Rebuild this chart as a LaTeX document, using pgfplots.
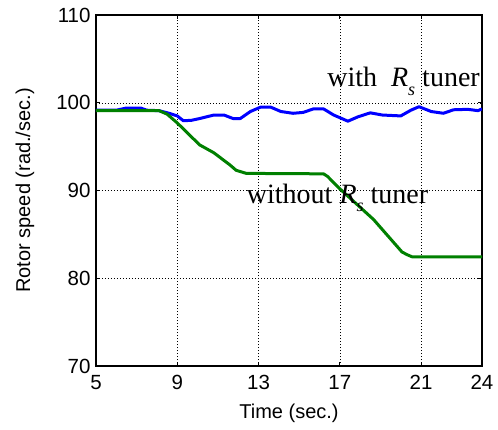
\documentclass[border=0pt]{standalone}
\usepackage{pgfplots}
\pgfplotsset{compat=1.18}
\usepackage{fontspec}
\setmainfont{Liberation Sans}
\newfontfamily\tnr{Liberation Serif}
\definecolor{mblue}{RGB}{0,0,255}
\definecolor{mgreen}{RGB}{0,128,0}
\begin{document}
\begin{tikzpicture}
\path[use as bounding box] (-96pt,-63pt) rectangle (402pt,366pt);
\begin{axis}[
  scale only axis, width=386pt, height=351pt,
  xmin=5, xmax=24, ymin=70, ymax=110,
  xtick={5,9,13,17,21,24}, ytick={70,80,90,100,110},
  tick align=inside, major tick length=4pt,
  tick style={black, line width=0.6pt},
  axis line style={black, line width=1.1pt},
  grid=major,
  major grid style={black, line width=0.5pt, dash pattern=on 1pt off 2pt},
  /pgf/number format/assume math mode=true,
  tick label style={font=\fontsize{20.5}{24}\selectfont},
  label style={font=\fontsize{20}{24}\selectfont},
  xlabel={Time (sec.)}, ylabel={Rotor speed (rad./sec.)},
  xlabel style={at={(axis description cs:0.5,-0.134)}, anchor=center},
  ylabel style={at={(axis description cs:-0.184,0.5)}, anchor=center},
  xticklabel style={yshift=-6pt},
  yticklabel style={xshift=-2pt},
]
\addplot[mblue, line width=3pt, line join=round] coordinates {
(5,99.15) (6.0,99.15) (6.5,99.4) (7.2,99.4) (7.5,99.15) (8.1,99.1) (8.6,98.8)
(9.0,98.5) (9.3,97.95) (9.7,98.0) (10.1,98.2) (10.8,98.6) (11.3,98.6)
(11.75,98.2) (12.1,98.2) (12.6,99.0) (13.1,99.5) (13.6,99.5) (14.1,99.0)
(14.7,98.8) (15.2,98.9) (15.7,99.3) (16.2,99.3) (16.7,98.6) (17.4,97.9)
(17.9,98.4) (18.5,98.85) (19.1,98.6) (20.0,98.5) (20.5,99.15) (20.9,99.55)
(21.5,99.0) (22.1,98.8) (22.6,99.2) (23.3,99.25) (23.8,99.1) (24,99.3)
};
\addplot[mgreen, line width=3pt, line join=round] coordinates {
(5,99.1) (8.1,99.1) (8.5,98.7) (9,97.7) (10.1,95.2) (10.8,94.3) (11.6,92.9)
(11.9,92.3) (12.4,91.95) (16.2,91.9) (16.4,91.6) (17.0,90.2) (18.66,86.7)
(19.0,85.8) (20.06,83.0) (20.3,82.7) (20.55,82.45) (24,82.45)
};
\node[anchor=base east, inner sep=0pt, font=\tnr\fontsize{28}{32}\selectfont]
  at (axis cs:23.9,101.8) {with\ \ \textit{R}\raisebox{-0.3em}{\fontsize{18}{20}\selectfont\textit{s}} tuner};
\node[anchor=base west, inner sep=0pt, font=\tnr\fontsize{28}{32}\selectfont]
  at (axis cs:12.42,88.56) {without \textit{R}\raisebox{-0.3em}{\fontsize{18}{20}\selectfont\textit{s}} tuner};
\end{axis}
\end{tikzpicture}
\end{document}
